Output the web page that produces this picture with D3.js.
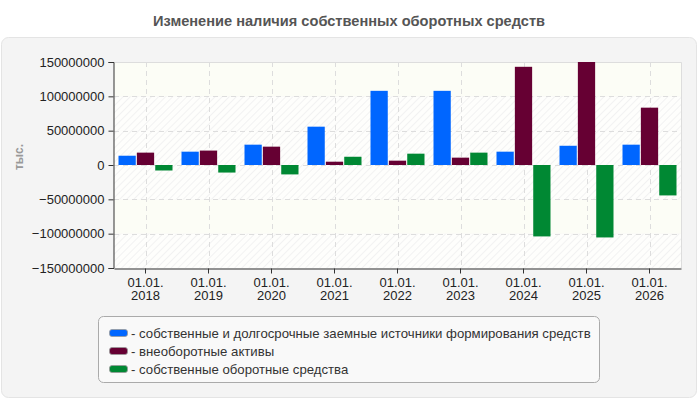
<!DOCTYPE html>
<html>
  <head>
    <meta charset="utf-8">
    <script src="https://cdn.jsdelivr.net/npm/d3@7"></script>
    <style type="text/css">
      body { margin: 0; background: #ffffff; }
      svg { display: block; font-family: "Liberation Sans", Arial, sans-serif; }
    </style>
  </head>
  <body>
    <script type="text/javascript">
      // Data (values in тыс.)
      var years = ["2018", "2019", "2020", "2021", "2022", "2023", "2024", "2025", "2026"];
      var ownSources = [13.5e6, 19.4e6, 29.6e6, 55.8e6, 108e6, 108e6, 19.4e6, 28e6, 29.6e6];
      var fixedAssets = [18e6, 21e6, 26.7e6, 4.8e6, 6.3e6, 10.7e6, 143e6, 150e6, 83.5e6];
      var workingCapital = [-8e6, -11e6, -13.7e6, 12e6, 16.5e6, 18e6, -104e6, -105.5e6, -44.3e6];
      var seriesNames = [
        "- собственные и долгосрочные заемные источники формирования средств",
        "- внеоборотные активы",
        "- собственные оборотные средства"
      ];
      var seriesColors = ["#0066ff", "#660033", "#008833"];
      var yTicks = [-150e6, -100e6, -50e6, 0, 50e6, 100e6, 150e6];

      var width = 700, height = 400;
      var margin = {top: 62, right: 19, bottom: 132, left: 114};

      var svg = d3.select("body").append("svg")
        .attr("width", width).attr("height", height);

      // hatch pattern for the plot bands
      var defs = svg.append("defs");
      var pat = defs.append("pattern").attr("id", "hatch")
        .attr("patternUnits", "userSpaceOnUse")
        .attr("width", 5).attr("height", 5)
        .attr("patternTransform", "rotate(45)");
      pat.append("rect").attr("width", 5).attr("height", 5).attr("fill", "#fefefc");
      pat.append("line").attr("x1", 0).attr("y1", 0).attr("x2", 0).attr("y2", 5)
        .attr("stroke", "#efefef").attr("stroke-width", 1.5);

      // Title
      svg.append("text").attr("x", 349).attr("y", 26)
        .attr("text-anchor", "middle").attr("font-size", "14.6px")
        .attr("font-weight", "bold").attr("fill", "#555555")
        .text("Изменение наличия собственных оборотных средств");

      // Grey panel
      svg.append("rect").attr("x", 1.5).attr("y", 37.5)
        .attr("width", 695).attr("height", 360).attr("rx", 7)
        .attr("fill", "#f4f4f4").attr("stroke", "#e4e4e4");

      var x = d3.scaleBand().domain(years)
        .range([margin.left, width - margin.right]);
      var xSeries = d3.scaleBand().domain([0, 1, 2])
        .range([4.5, x.bandwidth() - 4.5]).paddingInner(0.06);
      var y = d3.scaleLinear().domain([-150e6, 150e6])
        .range([height - margin.bottom, margin.top]);

      // Plot background bands
      var bands = d3.pairs(yTicks);
      svg.append("g").selectAll("rect").data(bands).enter().append("rect")
        .attr("x", margin.left)
        .attr("y", function(d){ return y(d[1]); })
        .attr("width", width - margin.right - margin.left)
        .attr("height", function(d){ return y(d[0]) - y(d[1]); })
        .attr("fill", function(d, i){ return (i === 1 || i === 5) ? "#fcfdf6" : "url(#hatch)"; });

      // Grid
      svg.append("g").selectAll("line").data(yTicks.slice(1, -1)).enter().append("line")
        .attr("x1", margin.left).attr("x2", width - margin.right)
        .attr("y1", function(d){ return Math.round(y(d)) + 0.5; })
        .attr("y2", function(d){ return Math.round(y(d)) + 0.5; })
        .attr("stroke", "#dddddd").attr("stroke-dasharray", "5,4");
      svg.append("g").selectAll("line").data(years).enter().append("line")
        .attr("x1", function(d){ return Math.round(x(d) + x.bandwidth() / 2) + 0.5; })
        .attr("x2", function(d){ return Math.round(x(d) + x.bandwidth() / 2) + 0.5; })
        .attr("y1", margin.top).attr("y2", height - margin.bottom)
        .attr("stroke", "#dddddd").attr("stroke-dasharray", "5,4");

      // Top and right border of plot
      svg.append("path")
        .attr("d", "M" + margin.left + "," + (margin.top + 0.5) + "H" + (width - margin.right + 0.5) +
          "V" + (height - margin.bottom))
        .attr("fill", "none").attr("stroke", "#dddddd");

      // Bars
      var allSeries = [ownSources, fixedAssets, workingCapital];
      var groups = svg.append("g").selectAll("g").data(years).enter().append("g")
        .attr("transform", function(d){ return "translate(" + x(d) + ",0)"; });
      groups.selectAll("rect").data(function(d, i){
          return allSeries.map(function(s, k){ return {k: k, v: s[i]}; });
        }).enter().append("rect")
        .attr("x", function(d){ return xSeries(d.k); })
        .attr("width", xSeries.bandwidth())
        .attr("y", function(d){ return y(Math.max(0, d.v)); })
        .attr("height", function(d){ return Math.abs(y(d.v) - y(0)); })
        .attr("fill", function(d){ return seriesColors[d.k]; });

      // Axes
      var yAxis = d3.axisLeft(y).tickValues(yTicks).tickFormat(d3.format("d"))
        .tickSize(5).tickPadding(4);
      var gy = svg.append("g").attr("transform", "translate(" + (margin.left - 0.5) + ",0)").call(yAxis);
      gy.select(".domain").attr("stroke", "#333333");
      gy.selectAll(".tick line").attr("stroke", "#333333");
      gy.selectAll(".tick text").attr("font-size", "13px").attr("fill", "#222222")
        .attr("font-family", "Liberation Sans, Arial, sans-serif");

      var xAxis = d3.axisBottom(x).tickSize(5).tickSizeOuter(0).tickFormat("");
      var gx = svg.append("g").attr("transform", "translate(0," + (height - margin.bottom + 0.5) + ")").call(xAxis);
      gx.select(".domain").attr("stroke", "#333333");
      gx.selectAll(".tick line").attr("stroke", "#333333");
      // two-line labels, one text per line
      gx.selectAll(".tick").append("text").attr("y", 18).text("01.01.");
      gx.selectAll(".tick").append("text").attr("y", 31).text(function(d){ return d; });
      gx.selectAll(".tick text")
        .attr("text-anchor", "middle").attr("font-size", "13px").attr("fill", "#222222")
        .attr("font-family", "Liberation Sans, Arial, sans-serif");

      // Y axis unit label
      svg.append("text").attr("transform", "translate(23,157) rotate(-90)")
        .attr("text-anchor", "middle").attr("font-size", "12px").attr("font-weight", "bold")
        .attr("fill", "#999999").text("тыс.");

      // Legend
      var legend = svg.append("g");
      legend.append("rect").attr("x", 98.5).attr("y", 316.5)
        .attr("width", 501).attr("height", 66).attr("rx", 5)
        .attr("fill", "#f9f9f9").attr("stroke", "#aaaaaa");
      var items = legend.selectAll("g").data(seriesNames).enter().append("g")
        .attr("transform", function(d, i){ return "translate(109," + (333 + i * 18) + ")"; });
      items.append("rect").attr("x", 0.5).attr("y", -3.5).attr("width", 18).attr("height", 7)
        .attr("rx", 2.5).attr("fill", function(d, i){ return seriesColors[i]; })
        .attr("stroke", "#999999").attr("stroke-width", 0.8);
      items.append("text").attr("x", 22).attr("y", 4.5)
        .attr("font-size", "13.2px").attr("fill", "#333333").text(function(d){ return d; });
    </script>
  </body>
</html>
